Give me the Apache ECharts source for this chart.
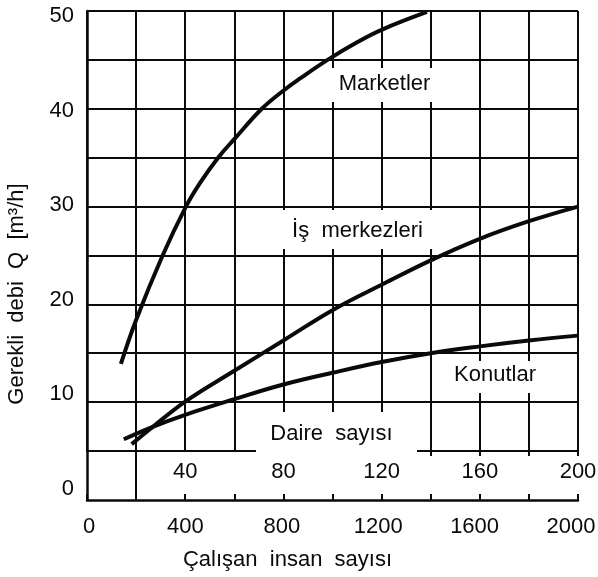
<!DOCTYPE html>
<html><head><meta charset="utf-8">
<script src="https://cdn.jsdelivr.net/npm/echarts@6/dist/echarts.min.js"></script>
<style>html,body{margin:0;padding:0;background:#fff}#c{width:598px;height:577px}</style>
</head><body><div id="c"></div>
<script>
// ---- data ----
const marketler = [[138,13.9],[200,18.4],[308,25],[403,30],[460,32.4],[534,35],[600,36.9],[712,40],[802,41.9],[868,43.1],[980,45],[1100,46.8],[1202,48.1],[1385,49.9]];
const isMerkezleri = [[182,5.7],[260,7.3],[400,10.05],[600,13.2],[800,16.3],[1000,19.4],[1200,22.0],[1400,24.5],[1600,26.7],[1800,28.5],[2000,30]];
const konutlar = [[150,6.2],[260,7.4],[400,8.7],[600,10.3],[800,11.8],[1000,13.0],[1200,14.1],[1400,15.0],[1600,15.7],[1800,16.3],[2000,16.8]];
const seriesNames = ['Marketler', 'İş  merkezleri', 'Konutlar'];
const xTickLabels = [0,400,800,1200,1600,2000];
const yTickLabels = [0,10,20,30,40,50];
const daireTickValues = [400,800,1200,1600,2000];
const daireTickLabels = ['40','80','120','160','200'];
const daireTickMarks = [1400,1600,1800,2000];
const bandLines = [200];
const xTitle = 'Çalışan  insan  sayısı';
const yTitle = 'Gerekli  debi  Q  [m³/h]';
const daireTitle = 'Daire  sayısı';

// ---- chart ----
const FONT = '"Liberation Sans", Arial, Helvetica, sans-serif';
const INK = '#0a0a0a';
const chart = echarts.init(document.getElementById('c'), null, {renderer:'canvas'});

function curve(name, data){
  return {name, type:'line', xAxisIndex:0, yAxisIndex:0, data, smooth:0.4,
    symbol:'none', lineStyle:{color:INK, width:4}, z:3, silent:true};
}
function txt(text, x, y, extra){
  return Object.assign({type:'text', z:20, silent:true,
    style:{text, x, y, align:'center', verticalAlign:'middle', fill:INK, fontSize:22, fontFamily:FONT}}, extra||{});
}
function mask(x, y, w, h){
  return {type:'rect', z:10, silent:true, shape:{x, y, width:w, height:h}, style:{fill:'#fff'}};
}
const plain = v => String(v);

const option = {
  animation:false,
  backgroundColor:'#fff',
  grid:[
    {left:87, right:20, top:11, bottom:126, outerBoundsMode:'none', containLabel:false},
    {left:87, right:20, top:451, bottom:77, outerBoundsMode:'none', containLabel:false},
    {left:89, right:27, top:16, bottom:88, outerBoundsMode:'none', containLabel:false}
  ],
  xAxis:[
    // main grid: series + vertical grid lines
    {gridIndex:0, type:'value', position:'bottom', min:0, max:2000, interval:200,
     axisLine:{show:false}, axisTick:{show:false}, axisLabel:{show:false},
     splitLine:{show:true, lineStyle:{color:INK, width:2}}},
    // bottom band axis line with inner ticks
    {gridIndex:1, type:'value', position:'bottom', min:0, max:2000, interval:200,
     axisLine:{show:true, onZero:false, lineStyle:{color:INK, width:2.5}},
     axisTick:{show:true, inside:true, length:6, lineStyle:{color:INK, width:2}},
     axisLabel:{show:false}, splitLine:{show:false}},
    // x tick labels
    {gridIndex:2, type:'value', position:'bottom', min:0, max:2000, interval:400,
     axisLine:{show:false}, axisTick:{show:false}, splitLine:{show:false},
     axisLabel:{show:true, customValues:xTickLabels, formatter:plain, margin:27, fontSize:22, color:INK, fontFamily:FONT}},
    // Daire sayısı axis
    {gridIndex:0, type:'value', position:'bottom', offset:0, min:0, max:2000, interval:200,
     axisLine:{show:true, onZero:false, lineStyle:{color:INK, width:2}},
     axisTick:{show:true, inside:false, length:5, customValues:daireTickMarks, lineStyle:{color:INK, width:2}},
     axisLabel:{show:true, customValues:daireTickValues, margin:10, fontSize:22, color:INK, fontFamily:FONT,
       formatter:v => { const i = daireTickValues.indexOf(v); return i >= 0 ? daireTickLabels[i] : ''; }},
     splitLine:{show:false}}
  ],
  yAxis:[
    {gridIndex:0, type:'value', position:'left', min:5, max:50, interval:5,
     axisLine:{show:true, onZero:false, lineStyle:{color:INK, width:2.5}},
     axisTick:{show:false}, axisLabel:{show:false},
     splitLine:{show:true, lineStyle:{color:INK, width:2}}},
    {gridIndex:1, type:'value', position:'left', min:0, max:5,
     axisLine:{show:true, onZero:false, lineStyle:{color:INK, width:2.5}},
     axisTick:{show:false}, axisLabel:{show:false}, splitLine:{show:false}},
    {gridIndex:2, type:'value', position:'left', min:0, max:50, interval:10,
     axisLine:{show:false}, axisTick:{show:false}, splitLine:{show:false},
     axisLabel:{show:true, customValues:yTickLabels, formatter:plain, margin:15, fontSize:22, color:INK, fontFamily:FONT}}
  ],
  series:[
    curve(seriesNames[0], marketler),
    curve(seriesNames[1], isMerkezleri),
    curve(seriesNames[2], konutlar),
    {type:'line', xAxisIndex:1, yAxisIndex:1, data:[], silent:true,
     markLine:{silent:true, symbol:['none','none'], label:{show:false},
       lineStyle:{color:INK, width:2, type:'solid'},
       data:bandLines.map(v => ({xAxis:v}))}}
  ],
  graphic:[
    mask(330, 68, 109, 34),
    mask(281, 210, 155, 39),
    mask(450, 361, 92, 32),
    mask(256, 412, 161, 42),
    txt(seriesNames[0], 384.5, 83.5),
    txt(seriesNames[1], 357.5, 230.5),
    txt(seriesNames[2], 495, 375),
    txt(daireTitle, 331.5, 433.5),
    txt(xTitle, 287.5, 560),
    txt(yTitle, 17.4, 294, {rotation:Math.PI/2, originX:17.4, originY:294})
  ]
};
chart.setOption(option);
</script>
</body></html>
